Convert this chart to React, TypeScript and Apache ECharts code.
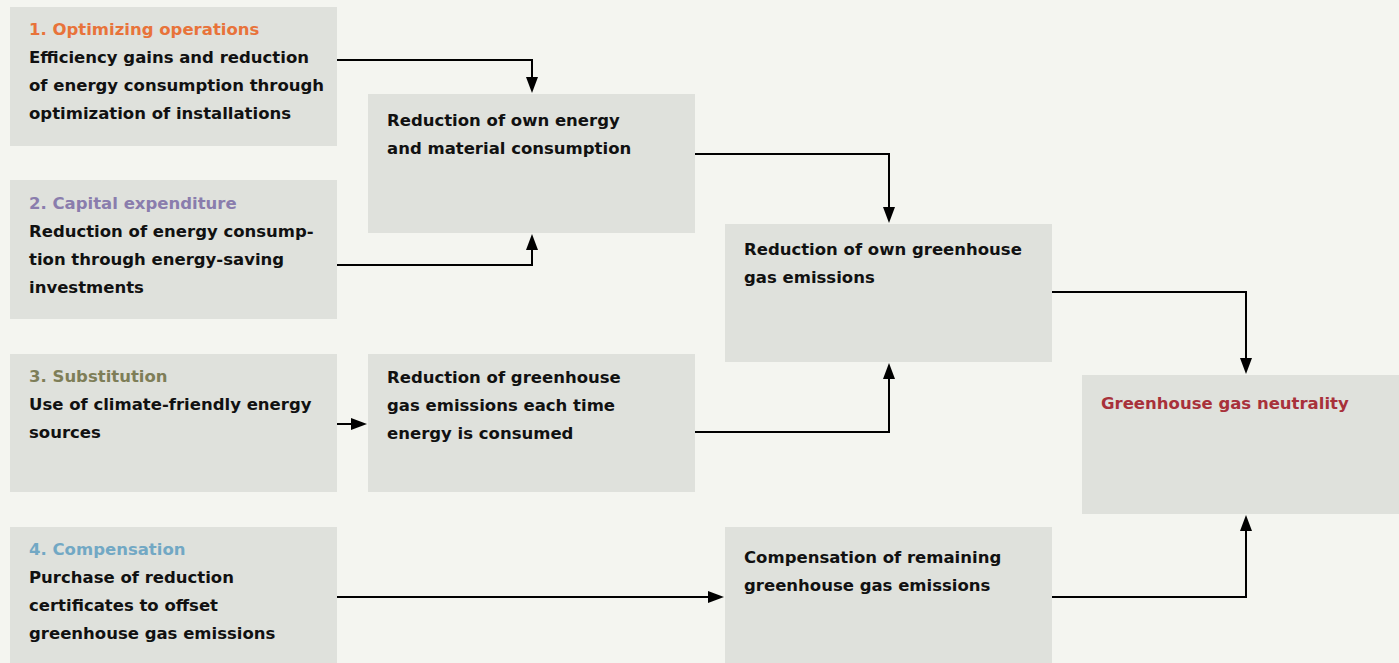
import React, { useEffect, useRef } from "react";
import * as echarts from "echarts";

// ---- content ----
const boxIds = ["op", "capex", "subst", "comp", "ownEnergy", "ghgEach", "ownGhg", "compRem", "neutral"];
const boxTitles: Record<string, string> = {
  op: "1. Optimizing operations",
  capex: "2. Capital expenditure",
  subst: "3. Substitution",
  comp: "4. Compensation",
  ownEnergy: "",
  ghgEach: "",
  ownGhg: "",
  compRem: "",
  neutral: "Greenhouse gas neutrality",
};
const titleColors: Record<string, string> = {
  op: "#E8733A",
  capex: "#8A7DAD",
  subst: "#7E7E58",
  comp: "#72A8C4",
  neutral: "#A8313A",
};
const boxLines: Record<string, string[]> = {
  op: ["Efficiency gains and reduction", "of energy consumption through", "optimization of installations"],
  capex: ["Reduction of energy consump-", "tion through energy-saving", "investments"],
  subst: ["Use of climate-friendly energy", "sources"],
  comp: ["Purchase of reduction", "certificates to offset", "greenhouse gas emissions"],
  ownEnergy: ["Reduction of own energy", "and material consumption"],
  ghgEach: ["Reduction of greenhouse", "gas emissions each time", "energy is consumed"],
  ownGhg: ["Reduction of own greenhouse", "gas emissions"],
  compRem: ["Compensation of remaining", "greenhouse gas emissions"],
  neutral: [],
};
// edges: from, to
const edgeFrom = ["op", "capex", "subst", "comp", "ownEnergy", "ghgEach", "ownGhg", "compRem"];
const edgeTo = ["ownEnergy", "ownEnergy", "ghgEach", "compRem", "ownGhg", "ownGhg", "neutral", "neutral"];

// ---- layout ----
const W = 1399, H = 663;
const BW = 327;
const layout: Record<string, { x: number; y: number; h: number; ty: number }> = {
  op: { x: 10, y: 7, h: 139, ty: 29 },
  capex: { x: 10, y: 180, h: 139, ty: 203 },
  subst: { x: 10, y: 354, h: 138, ty: 376 },
  comp: { x: 10, y: 527, h: 140, ty: 549 },
  ownEnergy: { x: 368, y: 94, h: 139, ty: 120 },
  ghgEach: { x: 368, y: 354, h: 138, ty: 377 },
  ownGhg: { x: 725, y: 224, h: 138, ty: 249 },
  compRem: { x: 725, y: 527, h: 140, ty: 557 },
  neutral: { x: 1082, y: 375, h: 139, ty: 403 },
};
const edgeExitY = [60, 265, 424, 597, 154, 432, 292, 597];
const LH = 28;

export default function App() {
  const ref = useRef<HTMLDivElement>(null);
  useEffect(() => {
    document.body.style.margin = "0";
    const chart = echarts.init(ref.current!, null, { renderer: "svg" });
    const els: any[] = [];
    els.push({ type: "rect", shape: { x: 0, y: 0, width: W, height: H }, style: { fill: "#F4F5F0" }, silent: true });
    const font = (c: string) => ({ fontFamily: "DejaVu Sans", fontSize: 16.5, fontWeight: "bold", fill: c });
    boxIds.forEach((id) => {
      const L = layout[id];
      els.push({ type: "rect", shape: { x: L.x, y: L.y, width: BW, height: L.h }, style: { fill: "#DFE1DC" } });
      let yy = L.ty;
      if (boxTitles[id]) {
        els.push({
          type: "text",
          x: L.x + 19,
          y: yy,
          style: { text: boxTitles[id], ...font(titleColors[id]), verticalAlign: "middle", align: "left" },
        });
        yy += LH;
      }
      boxLines[id].forEach((t) => {
        els.push({
          type: "text",
          x: L.x + 19,
          y: yy,
          style: { text: t, ...font("#111111"), verticalAlign: "middle", align: "left" },
        });
        yy += LH;
      });
    });
    const lineStyle = { stroke: "#000", lineWidth: 2, fill: null };
    const head = (tx: number, ty: number, dir: "down" | "up" | "right") => {
      const hw = 6, hl = 16;
      let pts: number[][];
      if (dir === "down") pts = [[tx - hw, ty - hl], [tx + hw, ty - hl], [tx, ty]];
      else if (dir === "up") pts = [[tx - hw, ty + hl], [tx + hw, ty + hl], [tx, ty]];
      else pts = [[tx - hl, ty - hw], [tx - hl, ty + hw], [tx, ty]];
      return { type: "polygon", shape: { points: pts }, style: { fill: "#000" } };
    };
    edgeFrom.forEach((f, i) => {
      const A = layout[f], B = layout[edgeTo[i]];
      const sx = A.x + BW, sy = edgeExitY[i];
      if (sy > B.y && sy < B.y + B.h) {
        const ex = B.x - 1;
        els.push({ type: "polyline", shape: { points: [[sx, sy], [ex - 10, sy]] }, style: lineStyle });
        els.push(head(ex, sy, "right"));
      } else {
        const cx = B.x + Math.round(BW / 2);
        const down = sy < B.y;
        const ey = down ? B.y - 1 : B.y + B.h + 1;
        els.push({
          type: "polyline",
          shape: { points: [[sx, sy], [cx, sy], [cx, down ? ey - 10 : ey + 10]] },
          style: lineStyle,
        });
        els.push(head(cx, ey, down ? "down" : "up"));
      }
    });
    chart.setOption({ animation: false, graphic: { elements: els } });
    return () => chart.dispose();
  }, []);
  return <div ref={ref} style={{ width: W, height: H, position: "absolute", left: 0, top: 0 }} />;
}
